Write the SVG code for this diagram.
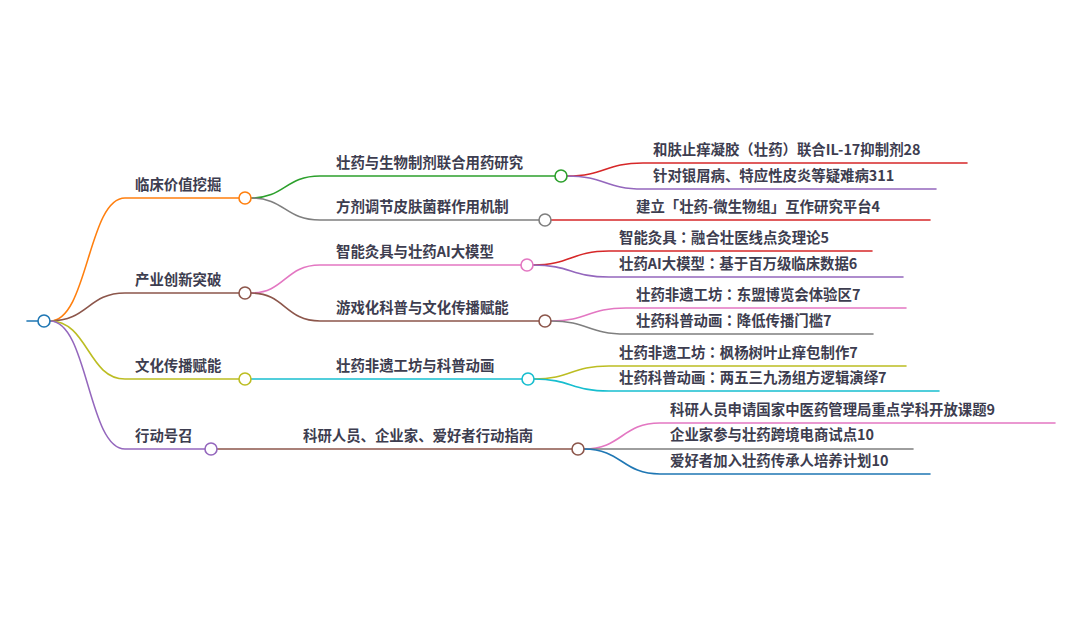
<svg xmlns="http://www.w3.org/2000/svg" width="1080" height="617" viewBox="0 0 1080 617">
<style>
text{font-family:"Noto Sans CJK SC","Noto Sans",sans-serif;font-size:14.4px;font-weight:600;fill:#3d3d4f}
.p{font-family:"Noto Sans CJK TC","Noto Sans CJK SC",sans-serif}
.l{fill:none;stroke-width:1.6;stroke-linecap:round}
.c{fill:#fff;stroke-width:1.6}
</style>
<rect width="1080" height="617" fill="#fff"/>
<g id="connectors">
<path class="l" stroke="#1f77b4" d="M27,321H38"/>
<path class="l" stroke="#ff7f0e" d="M50,321C88,321 88,198 125,198H239"/>
<path class="l" stroke="#8c564b" d="M50,321C88,321 88,293 125,293H239"/>
<path class="l" stroke="#bcbd22" d="M50,321C88,321 88,379 125,379H239"/>
<path class="l" stroke="#9467bd" d="M50,321C88,321 88,449 125,449H205"/>
<path class="l" stroke="#2ca02c" d="M251,198C285,198 285,176 320,176H555"/>
<path class="l" stroke="#7f7f7f" d="M251,198C285,198 285,220 320,220H539"/>
<path class="l" stroke="#e377c2" d="M251,293C285,293 285,265 320,265H521"/>
<path class="l" stroke="#8c564b" d="M251,293C285,293 285,321 320,321H539"/>
<path class="l" stroke="#17becf" d="M251,379H522"/>
<path class="l" stroke="#8c564b" d="M217,449H572"/>
<path class="l" stroke="#d62728" d="M567,176C605,176 605,163 643,163H967"/>
<path class="l" stroke="#9467bd" d="M567,176C605,176 605,189 643,189H936"/>
<path class="l" stroke="#d62728" d="M551,220H930"/>
<path class="l" stroke="#d62728" d="M533,265C571,265 571,251 609,251H872"/>
<path class="l" stroke="#9467bd" d="M533,265C571,265 571,277 609,277H903"/>
<path class="l" stroke="#e377c2" d="M551,321C588,321 588,308 626,308H906"/>
<path class="l" stroke="#7f7f7f" d="M551,321C588,321 588,334 626,334H873"/>
<path class="l" stroke="#bcbd22" d="M534,379C571,379 571,366 609,366H906"/>
<path class="l" stroke="#17becf" d="M534,379C571,379 571,391 609,391H939"/>
<path class="l" stroke="#e377c2" d="M584,449C622,449 622,423 660,423H1055"/>
<path class="l" stroke="#7f7f7f" d="M584,449H913"/>
<path class="l" stroke="#1f77b4" d="M584,449C622,449 622,474 660,474H930"/>
</g>
<g id="root"><circle class="c" cx="44" cy="321" r="6" stroke="#1f77b4"/></g>
<g id="n1"><circle class="c" cx="245" cy="198" r="6" stroke="#ff7f0e"/><text x="135" y="190">临床价值挖掘</text></g>
<g id="n2"><circle class="c" cx="245" cy="293" r="6" stroke="#8c564b"/><text x="135" y="285">产业创新突破</text></g>
<g id="n3"><circle class="c" cx="245" cy="379" r="6" stroke="#bcbd22"/><text x="135" y="371">文化传播赋能</text></g>
<g id="n4"><circle class="c" cx="211" cy="449" r="6" stroke="#9467bd"/><text x="135" y="441">行动号召</text></g>
<g id="n1a"><circle class="c" cx="561" cy="176" r="6" stroke="#2ca02c"/><text x="336" y="168">壮药与生物制剂联合用药研究</text></g>
<g id="n1b"><circle class="c" cx="545" cy="220" r="6" stroke="#7f7f7f"/><text x="336" y="212">方剂调节皮肤菌群作用机制</text></g>
<g id="n2a"><circle class="c" cx="527" cy="265" r="6" stroke="#e377c2"/><text x="336" y="257">智能灸具与壮药AI大模型</text></g>
<g id="n2b"><circle class="c" cx="545" cy="321" r="6" stroke="#8c564b"/><text x="336" y="313">游戏化科普与文化传播赋能</text></g>
<g id="n3a"><circle class="c" cx="528" cy="379" r="6" stroke="#17becf"/><text x="336" y="371">壮药非遗工坊与科普动画</text></g>
<g id="n4a"><circle class="c" cx="578" cy="449" r="6" stroke="#8c564b"/><text x="303" y="441">科研人员、企业家、爱好者行动指南</text></g>
<g id="l1"><text x="653" y="155">和肤止痒凝胶<tspan class="p">（</tspan>壮药<tspan class="p">）</tspan>联合IL-17抑制剂28</text></g>
<g id="l2"><text x="653" y="181">针对银屑病、特应性皮炎等疑难病311</text></g>
<g id="l3"><text x="636" y="212">建立「壮药-微生物组」互作研究平台4</text></g>
<g id="l4"><text x="619" y="243">智能灸具<tspan class="p">：</tspan>融合壮医线点灸理论5</text></g>
<g id="l5"><text x="619" y="269">壮药AI大模型<tspan class="p">：</tspan>基于百万级临床数据6</text></g>
<g id="l6"><text x="636" y="300">壮药非遗工坊<tspan class="p">：</tspan>东盟博览会体验区7</text></g>
<g id="l7"><text x="636" y="326">壮药科普动画<tspan class="p">：</tspan>降低传播门槛7</text></g>
<g id="l8"><text x="619" y="358">壮药非遗工坊<tspan class="p">：</tspan>枫杨树叶止痒包制作7</text></g>
<g id="l9"><text x="619" y="383">壮药科普动画<tspan class="p">：</tspan>两五三九汤组方逻辑演绎7</text></g>
<g id="l10"><text x="670" y="415">科研人员申请国家中医药管理局重点学科开放课题9</text></g>
<g id="l11"><text x="670" y="440">企业家参与壮药跨境电商试点10</text></g>
<g id="l12"><text x="670" y="466">爱好者加入壮药传承人培养计划10</text></g>
</svg>
